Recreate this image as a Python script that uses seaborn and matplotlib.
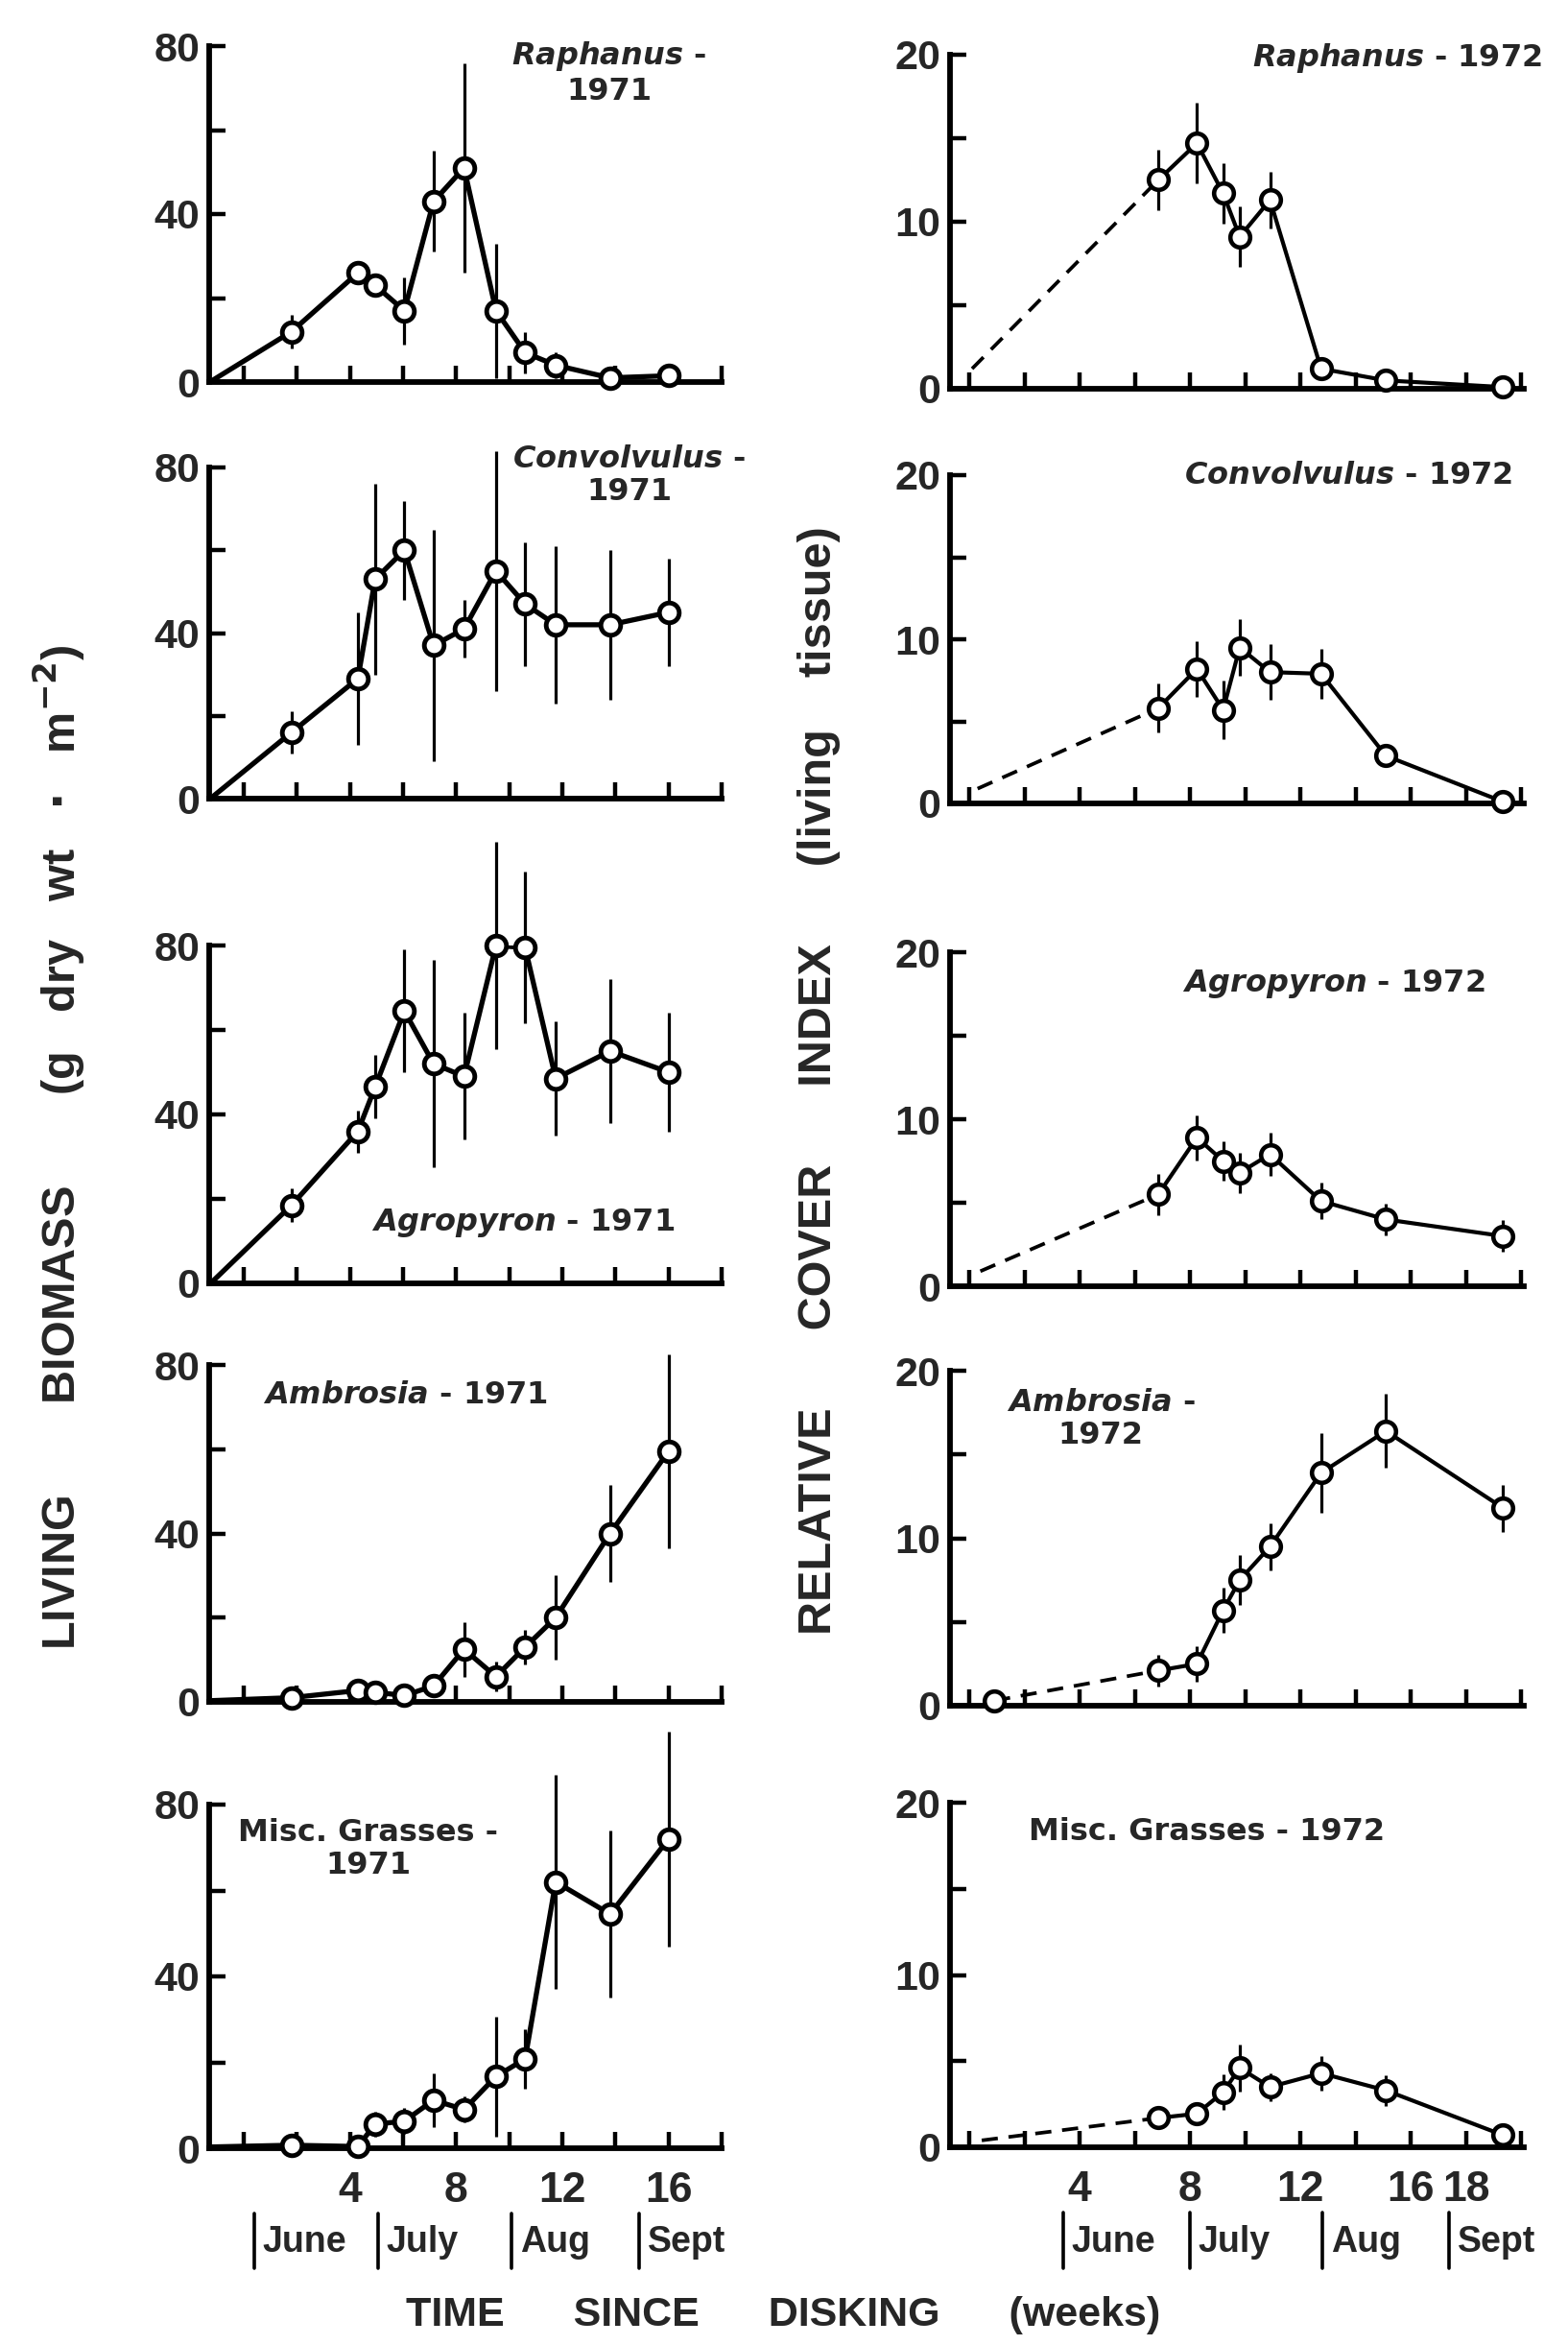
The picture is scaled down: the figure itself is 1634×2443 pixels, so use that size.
import numpy as np
import matplotlib
matplotlib.use("Agg")
import matplotlib.pyplot as plt
import matplotlib.transforms as mtransforms
import seaborn as sns

# ---------------- data ----------------
weeks_1971 = [1.8, 4.3, 4.95, 6.05, 7.15, 8.3, 9.5, 10.6, 11.75, 13.8, 16.0]
weeks_1972 = [6.85, 8.25, 9.2, 9.8, 10.9, 12.75, 15.1, 19.35]

raphanus_1971 = [12, 26, 23, 17, 43, 51, 17, 7, 4, 1, 1.5]
raphanus_1971_err = [4, 2, 2, 8, 12, 25, 16, 5, 3, 1, 1]
convolvulus_1971 = [16, 29, 53, 60, 37, 41, 55, 47, 42, 42, 45]
convolvulus_1971_err = [5, 16, 23, 12, 28, 7, 29, 15, 19, 18, 13]
agropyron_1971 = [18.5, 36, 46.5, 64.5, 52, 49, 80, 79.5, 48.5, 55, 50]
agropyron_1971_err = [4, 5, 7.5, 14.5, 24.5, 15, 24.5, 18, 13.5, 17, 14]
ambrosia_1971 = [1, 2.7, 2.3, 1.5, 3.8, 12.5, 6, 13, 20, 40, 59.5]
ambrosia_1971_err = [0, 0.5, 0.5, 0.5, 1, 6.5, 3.5, 4, 10, 11.5, 23]
grasses_1971 = [0.7, 0.4, 5.6, 6.3, 11.2, 9, 16.7, 20.8, 62, 54.5, 72]
grasses_1971_err = [0, 0, 3, 3, 6.3, 3, 14, 7, 25, 19.5, 25]

raphanus_1972 = [12.5, 14.7, 11.7, 9.1, 11.3, 1.2, 0.5, 0.1]
raphanus_1972_err = [1.8, 2.4, 1.8, 1.8, 1.7, 0, 0, 0]
convolvulus_1972 = [5.8, 8.2, 5.7, 9.5, 8.0, 7.9, 2.9, 0.1]
convolvulus_1972_err = [1.5, 1.7, 1.8, 1.7, 1.7, 1.5, 0.6, 0]
agropyron_1972 = [5.5, 8.9, 7.5, 6.8, 7.9, 5.1, 4.0, 3.0]
agropyron_1972_err = [1.25, 1.35, 1.2, 1.2, 1.3, 1.1, 0.95, 0.95]
ambrosia_1972 = [2.1, 2.5, 5.7, 7.5, 9.5, 13.9, 16.4, 11.8]
ambrosia_1972_err = [0.95, 1.05, 1.35, 1.5, 1.4, 2.4, 2.2, 1.4]
grasses_1972 = [1.7, 1.95, 3.2, 4.6, 3.5, 4.3, 3.3, 0.7]
grasses_1972_err = [0, 0, 1.05, 1.35, 0.8, 1.0, 0.9, 0]

# line origins (time of disking) for each panel
start_1971_week = -1.2
start_1971_value = [0.3, 0.3, 0.3, 0.3, 0.3]
start_1972_week = [0.1, 0.3, 0.4, 0.9, 0.45]
start_1972_value = [1.2, 0.9, 0.9, 0.3, 0.4]
start_1972_marker = [False, False, False, True, False]

species_1971 = ["Raphanus", "Convolvulus", "Agropyron", "Ambrosia", "Misc. Grasses"]
species_1972 = ["Raphanus", "Convolvulus", "Agropyron", "Ambrosia", "Misc. Grasses"]

months = ["June", "July", "Aug", "Sept"]
month_starts_1971 = [0.4, 5.05, 10.1, 14.9]
month_starts_1972 = [3.4, 8.0, 12.8, 17.4]

xtick_labels_1971 = [4, 8, 12, 16]
xtick_labels_1972 = [4, 8, 12, 16, 18]

# ---------------- style ----------------
sns.set_theme(style="ticks")
plt.rcParams['font.family'] = ['Liberation Sans', 'DejaVu Sans']
plt.rcParams['font.weight'] = 'bold'
plt.rcParams['mathtext.fontset'] = 'custom'
plt.rcParams['mathtext.it'] = 'DejaVu Sans:italic:bold'
plt.rcParams['mathtext.rm'] = 'DejaVu Sans:bold'
plt.rcParams['mathtext.bf'] = 'DejaVu Sans:bold'
NARROW = ['Liberation Sans Narrow', 'Liberation Sans', 'DejaVu Sans']
WIDE = ['DejaVu Sans']

W, H = 1634, 2443
fig = plt.figure(figsize=(W / 100, H / 100), dpi=100)
fig.patch.set_facecolor('white')


def add_ax(x0, x1, top, bottom):
    return fig.add_axes([x0 / W, 1 - bottom / H, (x1 - x0) / W, (bottom - top) / H])


left_rows = [(48, 398), (487, 832), (985, 1337), (1422, 1773), (1880, 2238)]
right_rows = [(57, 405), (495, 837), (992, 1340), (1428, 1777), (1878, 2237)]

left_vals = [raphanus_1971, convolvulus_1971, agropyron_1971, ambrosia_1971, grasses_1971]
left_errs = [raphanus_1971_err, convolvulus_1971_err, agropyron_1971_err, ambrosia_1971_err, grasses_1971_err]
right_vals = [raphanus_1972, convolvulus_1972, agropyron_1972, ambrosia_1972, grasses_1972]
right_errs = [raphanus_1972_err, convolvulus_1972_err, agropyron_1972_err, ambrosia_1972_err, grasses_1972_err]


def species_label(name, year, two_lines):
    if name.startswith("Misc"):
        sp = name
    else:
        sp = r"$\mathit{" + name + "}$"
    sep = " -\n" if two_lines else " - "
    return sp + sep + year


# title placements (axes fraction) : x, y, two_lines
left_title_pos = [(0.78, 0.92, True), (0.82, 0.975, True), (0.613, 0.18, False),
                  (0.383, 0.91, False), (0.31, 0.87, True)]
right_title_pos = [(0.78, 0.99, False), (0.695, 1.0, False), (0.668, 0.905, False),
                   (0.263, 0.855, True), (0.447, 0.915, False)]

LW_SPINE = 4.2
LW_LINE_L = 3.8
LW_LINE_R = 3.0
LW_ERR = 2.3
MARKER_S = 220


def style_axes(ax, xlim, ylim, xmaj, xmin, ymaj, ymin, show_xlabels, xlabels):
    ax.set_xlim(*xlim)
    ax.set_ylim(*ylim)
    for s in ['top', 'right']:
        ax.spines[s].set_visible(False)
    for s in ['left', 'bottom']:
        ax.spines[s].set_linewidth(LW_SPINE)
        ax.spines[s].set_color('black')
    ax.set_xticks(xmaj)
    ax.set_xticks(xmin, minor=True)
    ax.set_yticks(ymaj)
    ax.set_yticks(ymin, minor=True)
    ax.set_yticklabels([str(v) for v in ymaj])
    if show_xlabels:
        ax.set_xticklabels([str(v) for v in xlabels])
    else:
        ax.set_xticklabels([])
    ax.tick_params(axis='both', which='both', direction='in', length=12, width=3.2,
                   color='black')
    ax.tick_params(axis='y', which='major', labelsize=31, pad=7)
    ax.tick_params(axis='x', which='major', labelsize=32, pad=17)
    for lab in ax.get_yticklabels():
        lab.set_fontweight('bold')
    for lab in ax.get_xticklabels():
        lab.set_fontweight('bold')
        lab.set_family(NARROW)
    ax.set_xlabel('')
    ax.set_ylabel('')
    ax.set_facecolor('white')
    ax.grid(False)


def month_row(ax, starts):
    trans = mtransforms.blended_transform_factory(ax.transData, ax.transAxes)
    for b, name in zip(starts, months):
        ax.plot([b, b], [-0.19, -0.35], transform=trans, color='black', lw=2.6,
                clip_on=False)
        ax.text(b + 0.3, -0.275, name, transform=trans, ha='left', va='center',
                fontsize=27, fontweight='bold', family=NARROW)


# ---------------- left column (1971, biomass) ----------------
for i, (top, bottom) in enumerate(left_rows):
    ax = add_ax(218, 752, top, bottom)
    x = np.array(weeks_1971)
    y = np.array(left_vals[i])
    e = np.array(left_errs[i])
    ax.vlines(x, y - e, y + e, color='black', lw=LW_ERR, zorder=2, clip_on=False)
    sns.lineplot(x=np.r_[start_1971_week, x], y=np.r_[start_1971_value[i], y], ax=ax,
                 color='black', linewidth=LW_LINE_L, sort=False, estimator=None,
                 zorder=3)
    sns.scatterplot(x=x, y=y, ax=ax, s=MARKER_S, color='white', edgecolor='black',
                    linewidth=3.5, zorder=4, clip_on=False)
    last = i == len(left_rows) - 1
    style_axes(ax, (-1.3, 18.0), (0, 80), xtick_labels_1971, [0, 2, 6, 10, 14, 18],
               [0, 40, 80], [20, 60], last, xtick_labels_1971)
    tx, ty, two = left_title_pos[i]
    ax.text(tx, ty, species_label(species_1971[i], "1971", two), transform=ax.transAxes,
            ha='center', va='center', fontsize=23, fontweight='bold', family=WIDE,
            multialignment='center', linespacing=1.15)
    if last:
        month_row(ax, month_starts_1971)

# ---------------- right column (1972, cover index) ----------------
for i, (top, bottom) in enumerate(right_rows):
    ax = add_ax(990, 1588, top, bottom)
    x = np.array(weeks_1972)
    y = np.array(right_vals[i])
    e = np.array(right_errs[i])
    ax.vlines(x, y - e, y + e, color='black', lw=LW_ERR, zorder=2, clip_on=False)
    sns.lineplot(x=[start_1972_week[i], x[0]], y=[start_1972_value[i], y[0]], ax=ax,
                 color='black', linewidth=LW_LINE_R * 0.9, sort=False, estimator=None,
                 linestyle=(0, (4.5, 3)), zorder=3)
    sns.lineplot(x=x, y=y, ax=ax, color='black', linewidth=LW_LINE_R, sort=False,
                 estimator=None, zorder=3)
    mx, my = list(x), list(y)
    if start_1972_marker[i]:
        mx = [start_1972_week[i]] + mx
        my = [start_1972_value[i]] + my
    sns.scatterplot(x=mx, y=my, ax=ax, s=MARKER_S, color='white', edgecolor='black',
                    linewidth=3.3, zorder=4, clip_on=False)
    last = i == len(right_rows) - 1
    style_axes(ax, (-0.7, 20.1), (0, 20), xtick_labels_1972, [0, 2, 6, 10, 14, 20],
               [0, 10, 20], [5, 15], last, xtick_labels_1972)
    tx, ty, two = right_title_pos[i]
    ax.text(tx, ty, species_label(species_1972[i], "1972", two), transform=ax.transAxes,
            ha='center', va='center', fontsize=23, fontweight='bold', family=WIDE,
            multialignment='center', linespacing=1.15)
    if last:
        month_row(ax, month_starts_1972)

# ---------------- shared labels ----------------
fig.text(62 / W, 1 - 1195 / H,
         "LIVING" + " " * 7 + "BIOMASS" + " " * 7 + r"(g   dry   wt   $\cdot$   m$^{-2}$)",
         rotation=90, ha='center', va='center', fontsize=35, fontweight='bold',
         family=NARROW)
fig.text(854 / W, 1 - 1126 / H,
         "RELATIVE" + " " * 6 + "COVER" + " " * 6 + "INDEX" + " " * 6 + "(living    tissue)",
         rotation=90, ha='center', va='center', fontsize=35, fontweight='bold',
         family=NARROW)
fig.text(816 / W, 1 - 2412 / H, "TIME" + " " * 6 + "SINCE" + " " * 6 + "DISKING" + " " * 6 + "(weeks)",
         ha='center', va='center', fontsize=31, fontweight='bold', family=NARROW)

fig.savefig("out.png", dpi=100, facecolor='white')
